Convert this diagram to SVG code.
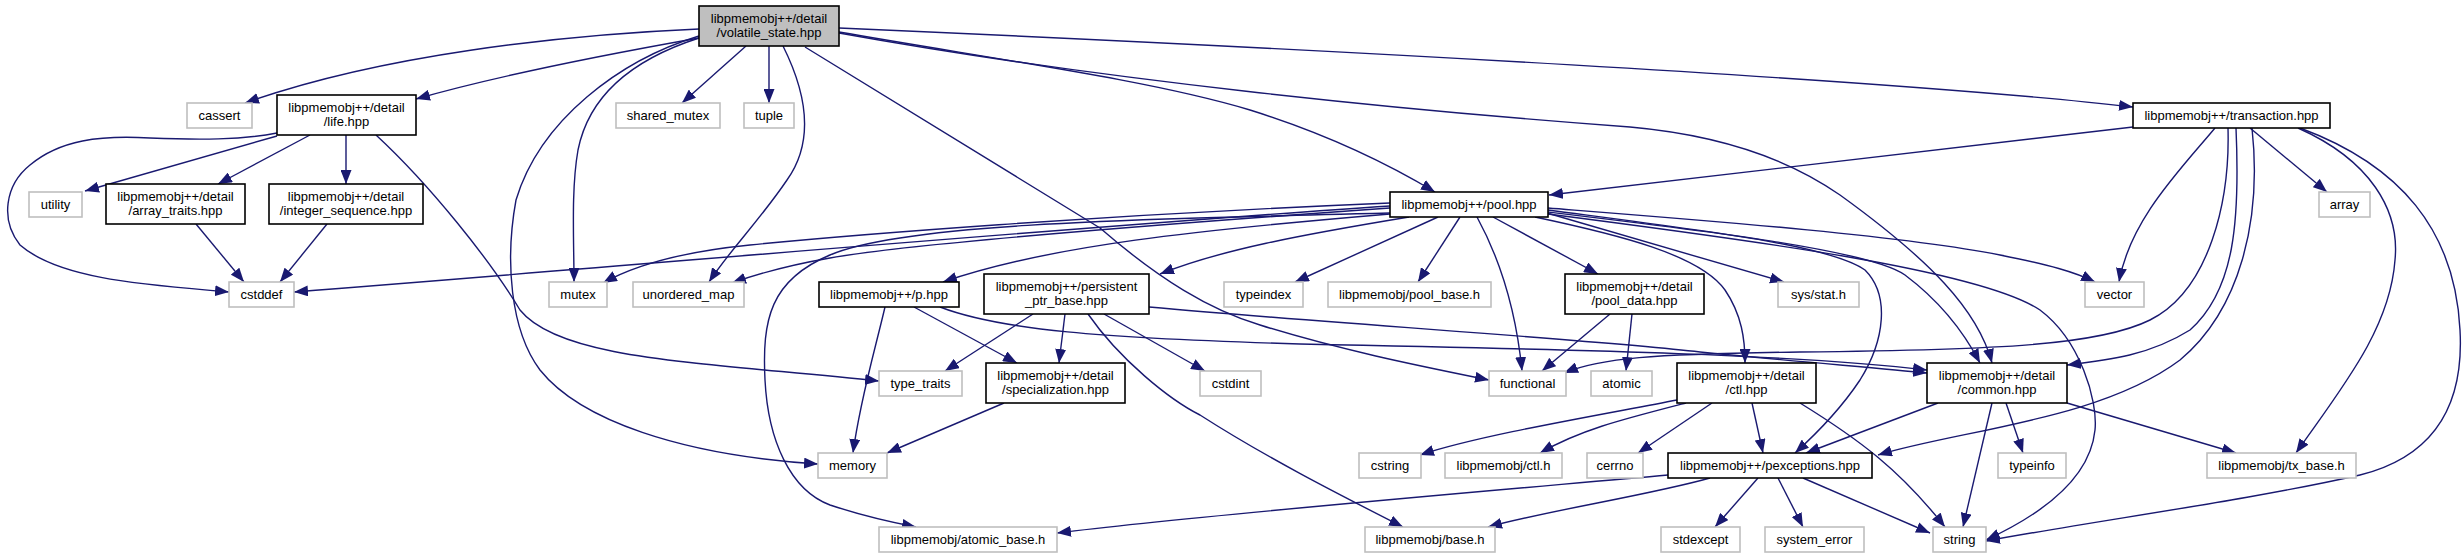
<svg xmlns="http://www.w3.org/2000/svg" width="2464" height="559" viewBox="0 0 2464 559">
<style>
.n rect{fill:#fff;stroke:#000;stroke-width:1.6}
.x rect{stroke:#bfbfbf}
.r rect{fill:#bfbfbf}
text{font-family:"Liberation Sans",Arial,sans-serif;font-size:13px;text-anchor:middle;fill:#000}
.e path{fill:none;stroke:#191970;stroke-width:1.4;marker-end:url(#a)}
</style>
<defs>
<marker id="a" markerUnits="userSpaceOnUse" markerWidth="14" markerHeight="11" viewBox="0 0 14 11" refX="14" refY="5.5" orient="auto"><path d="M0,0 L14,5.5 L0,11 z" fill="#191970"/></marker>
</defs>
<rect width="2464" height="559" fill="#fff"/>
<g class="e" id="edges">
<path d="M699,29 C560,35 380,55 245,103"/>
<path d="M699,38 C620,52 500,75 416,99"/>
<path d="M746,46 L682,103"/>
<path d="M769,46 L769,103"/>
<path d="M699,38 C640,57 590,90 578,150 C571,190 574,240 574,282"/>
<path d="M699,36 C620,60 540,120 516,200 C505,260 510,330 540,370 C580,420 680,455 818,464"/>
<path d="M783,46 C810,100 812,145 787,180 C760,220 730,250 709,282"/>
<path d="M805,47 L1100,228 C1160,280 1210,310 1260,325 C1340,350 1420,366 1489,380"/>
<path d="M839,32 C1000,60 1150,80 1250,110 C1330,135 1390,165 1435,192"/>
<path d="M839,28 C1300,48 1900,80 2133,107"/>
<path d="M839,33 C1100,80 1400,110 1630,127 C1720,135 1790,160 1840,195 C1930,260 1978,310 1992,363"/>
<path d="M277,136 L85,191"/>
<path d="M277,133 C240,140 200,140 150,138 C100,135 60,140 30,165 C5,185 0,220 20,245 C60,280 150,285 229,292"/>
<path d="M310,135 L218,184"/>
<path d="M346,135 L346,184"/>
<path d="M376,135 C430,185 490,260 520,310 C560,360 700,362 879,381"/>
<path d="M196,224 L244,282"/>
<path d="M327,224 L280,282"/>
<path d="M1390,206 C1100,225 700,260 294,292"/>
<path d="M1390,203 C1100,215 850,235 750,245 C680,252 635,265 603,283"/>
<path d="M1390,208 C1150,225 900,245 830,258 C790,265 760,273 732,283"/>
<path d="M1390,213 C1100,220 900,225 830,255 C770,280 762,320 765,380 C768,440 790,490 830,505 C860,515 890,522 916,527"/>
<path d="M1390,214 C1200,230 1050,245 943,282"/>
<path d="M1409,217 C1300,235 1220,250 1160,274"/>
<path d="M1438,217 L1295,282"/>
<path d="M1460,217 L1418,282"/>
<path d="M1477,217 C1495,250 1515,300 1522,371"/>
<path d="M1493,217 L1598,274"/>
<path d="M1535,217 C1620,235 1700,255 1725,290 C1742,315 1745,340 1745,363"/>
<path d="M1547,213 L1784,282"/>
<path d="M1548,208 C1700,220 1900,235 2000,255 C2050,265 2075,272 2095,282"/>
<path d="M1548,210 C1700,230 1830,245 1865,270 C1890,295 1885,340 1860,380 C1840,410 1815,435 1795,453"/>
<path d="M1548,212 C1700,230 1870,250 1905,275 C1945,305 1968,340 1980,363"/>
<path d="M1548,214 C1750,240 1980,270 2040,310 C2080,340 2098,400 2095,430 C2090,480 2040,515 1986,540"/>
<path d="M2133,127 L1549,195"/>
<path d="M2250,128 L2327,192"/>
<path d="M2215,128 C2180,170 2130,220 2119,282"/>
<path d="M2228,128 C2230,200 2210,290 2150,320 C2100,345 2000,350 1800,352 C1650,354 1600,358 1564,373"/>
<path d="M2236,128 C2240,220 2235,290 2190,330 C2150,355 2110,360 2067,365"/>
<path d="M2252,128 C2262,220 2240,310 2180,360 C2100,420 1960,430 1878,455"/>
<path d="M2298,128 C2370,160 2400,210 2395,260 C2390,330 2340,390 2296,453"/>
<path d="M2300,128 C2400,165 2455,230 2460,330 C2465,420 2420,460 2360,475 C2250,500 2100,520 1986,541"/>
<path d="M1033,314 L945,371"/>
<path d="M1065,314 L1059,363"/>
<path d="M1104,314 L1205,371"/>
<path d="M1088,314 C1120,360 1170,400 1200,415 C1270,460 1350,500 1403,527"/>
<path d="M1149,307 C1350,325 1600,340 1700,352 C1800,362 1880,368 1927,373"/>
<path d="M940,307 C1000,330 1100,338 1300,344 C1600,350 1800,355 1927,370"/>
<path d="M885,307 C875,350 860,400 853,453"/>
<path d="M914,307 L1017,363"/>
<path d="M1004,403 L887,453"/>
<path d="M1610,314 L1542,371"/>
<path d="M1632,314 L1626,371"/>
<path d="M1677,400 C1600,415 1480,435 1420,455"/>
<path d="M1686,403 C1620,420 1580,430 1540,453"/>
<path d="M1712,403 L1638,453"/>
<path d="M1752,403 L1763,453"/>
<path d="M1800,403 C1860,440 1900,470 1945,527"/>
<path d="M1938,403 L1806,453"/>
<path d="M1992,403 L1963,527"/>
<path d="M2006,403 L2023,453"/>
<path d="M2067,403 L2236,453"/>
<path d="M1668,475 C1500,490 1200,515 1057,533"/>
<path d="M1710,478 C1650,495 1550,510 1488,527"/>
<path d="M1758,478 L1715,527"/>
<path d="M1778,478 L1803,527"/>
<path d="M1803,478 L1930,533"/>
</g>
<g id="volatile_state" class="n r"><rect x="699" y="6" width="140" height="40"/><text x="769" y="22.5">libpmemobj++/detail</text><text x="769" y="36.5">/volatile_state.hpp</text></g>
<g id="cassert" class="n x"><rect x="187" y="103" width="65" height="25"/><text x="219.5" y="120">cassert</text></g>
<g id="life" class="n"><rect x="277" y="95" width="139" height="40"/><text x="346.5" y="111.5">libpmemobj++/detail</text><text x="346.5" y="125.5">/life.hpp</text></g>
<g id="shared_mutex" class="n x"><rect x="616" y="103" width="104" height="25"/><text x="668" y="120">shared_mutex</text></g>
<g id="tuple" class="n x"><rect x="744" y="103" width="50" height="25"/><text x="769" y="120">tuple</text></g>
<g id="transaction" class="n"><rect x="2133" y="103" width="197" height="25"/><text x="2231.5" y="120">libpmemobj++/transaction.hpp</text></g>
<g id="utility" class="n x"><rect x="29" y="192" width="53" height="25"/><text x="55.5" y="209">utility</text></g>
<g id="array_traits" class="n"><rect x="106" y="184" width="139" height="40"/><text x="175.5" y="200.5">libpmemobj++/detail</text><text x="175.5" y="214.5">/array_traits.hpp</text></g>
<g id="integer_sequence" class="n"><rect x="269" y="184" width="154" height="40"/><text x="346" y="200.5">libpmemobj++/detail</text><text x="346" y="214.5">/integer_sequence.hpp</text></g>
<g id="pool" class="n"><rect x="1390" y="192" width="158" height="25"/><text x="1469" y="209">libpmemobj++/pool.hpp</text></g>
<g id="array" class="n x"><rect x="2319" y="192" width="51" height="25"/><text x="2344.5" y="209">array</text></g>
<g id="cstddef" class="n x"><rect x="229" y="282" width="65" height="25"/><text x="261.5" y="299">cstddef</text></g>
<g id="mutex" class="n x"><rect x="549" y="282" width="58" height="25"/><text x="578" y="299">mutex</text></g>
<g id="unordered_map" class="n x"><rect x="633" y="282" width="111" height="25"/><text x="688.5" y="299">unordered_map</text></g>
<g id="p" class="n"><rect x="819" y="282" width="140" height="25"/><text x="889" y="299">libpmemobj++/p.hpp</text></g>
<g id="persistent_ptr_base" class="n"><rect x="984" y="274" width="165" height="40"/><text x="1066.5" y="290.5">libpmemobj++/persistent</text><text x="1066.5" y="304.5">_ptr_base.hpp</text></g>
<g id="typeindex" class="n x"><rect x="1224" y="282" width="79" height="25"/><text x="1263.5" y="299">typeindex</text></g>
<g id="pool_base" class="n x"><rect x="1328" y="282" width="163" height="25"/><text x="1409.5" y="299">libpmemobj/pool_base.h</text></g>
<g id="pool_data" class="n"><rect x="1565" y="274" width="139" height="40"/><text x="1634.5" y="290.5">libpmemobj++/detail</text><text x="1634.5" y="304.5">/pool_data.hpp</text></g>
<g id="sys_stat" class="n x"><rect x="1778" y="282" width="81" height="25"/><text x="1818.5" y="299">sys/stat.h</text></g>
<g id="vector" class="n x"><rect x="2085" y="282" width="59" height="25"/><text x="2114.5" y="299">vector</text></g>
<g id="type_traits" class="n x"><rect x="879" y="371" width="83" height="25"/><text x="920.5" y="388">type_traits</text></g>
<g id="specialization" class="n"><rect x="986" y="363" width="139" height="40"/><text x="1055.5" y="379.5">libpmemobj++/detail</text><text x="1055.5" y="393.5">/specialization.hpp</text></g>
<g id="cstdint" class="n x"><rect x="1200" y="371" width="61" height="25"/><text x="1230.5" y="388">cstdint</text></g>
<g id="functional" class="n x"><rect x="1489" y="371" width="77" height="25"/><text x="1527.5" y="388">functional</text></g>
<g id="atomic" class="n x"><rect x="1591" y="371" width="61" height="25"/><text x="1621.5" y="388">atomic</text></g>
<g id="ctl" class="n"><rect x="1677" y="363" width="139" height="40"/><text x="1746.5" y="379.5">libpmemobj++/detail</text><text x="1746.5" y="393.5">/ctl.hpp</text></g>
<g id="common" class="n"><rect x="1927" y="363" width="140" height="40"/><text x="1997" y="379.5">libpmemobj++/detail</text><text x="1997" y="393.5">/common.hpp</text></g>
<g id="memory" class="n x"><rect x="818" y="453" width="69" height="25"/><text x="852.5" y="470">memory</text></g>
<g id="cstring" class="n x"><rect x="1359" y="453" width="62" height="25"/><text x="1390" y="470">cstring</text></g>
<g id="ctl_h" class="n x"><rect x="1445" y="453" width="117" height="25"/><text x="1503.5" y="470">libpmemobj/ctl.h</text></g>
<g id="cerrno" class="n x"><rect x="1587" y="453" width="56" height="25"/><text x="1615" y="470">cerrno</text></g>
<g id="pexceptions" class="n"><rect x="1668" y="453" width="204" height="25"/><text x="1770" y="470">libpmemobj++/pexceptions.hpp</text></g>
<g id="typeinfo" class="n x"><rect x="1998" y="453" width="68" height="25"/><text x="2032" y="470">typeinfo</text></g>
<g id="tx_base" class="n x"><rect x="2207" y="453" width="149" height="25"/><text x="2281.5" y="470">libpmemobj/tx_base.h</text></g>
<g id="atomic_base" class="n x"><rect x="879" y="527" width="178" height="25"/><text x="968" y="544">libpmemobj/atomic_base.h</text></g>
<g id="base" class="n x"><rect x="1365" y="527" width="130" height="25"/><text x="1430" y="544">libpmemobj/base.h</text></g>
<g id="stdexcept" class="n x"><rect x="1661" y="527" width="79" height="25"/><text x="1700.5" y="544">stdexcept</text></g>
<g id="system_error" class="n x"><rect x="1765" y="527" width="99" height="25"/><text x="1814.5" y="544">system_error</text></g>
<g id="string" class="n x"><rect x="1933" y="527" width="53" height="25"/><text x="1959.5" y="544">string</text></g>
</svg>
